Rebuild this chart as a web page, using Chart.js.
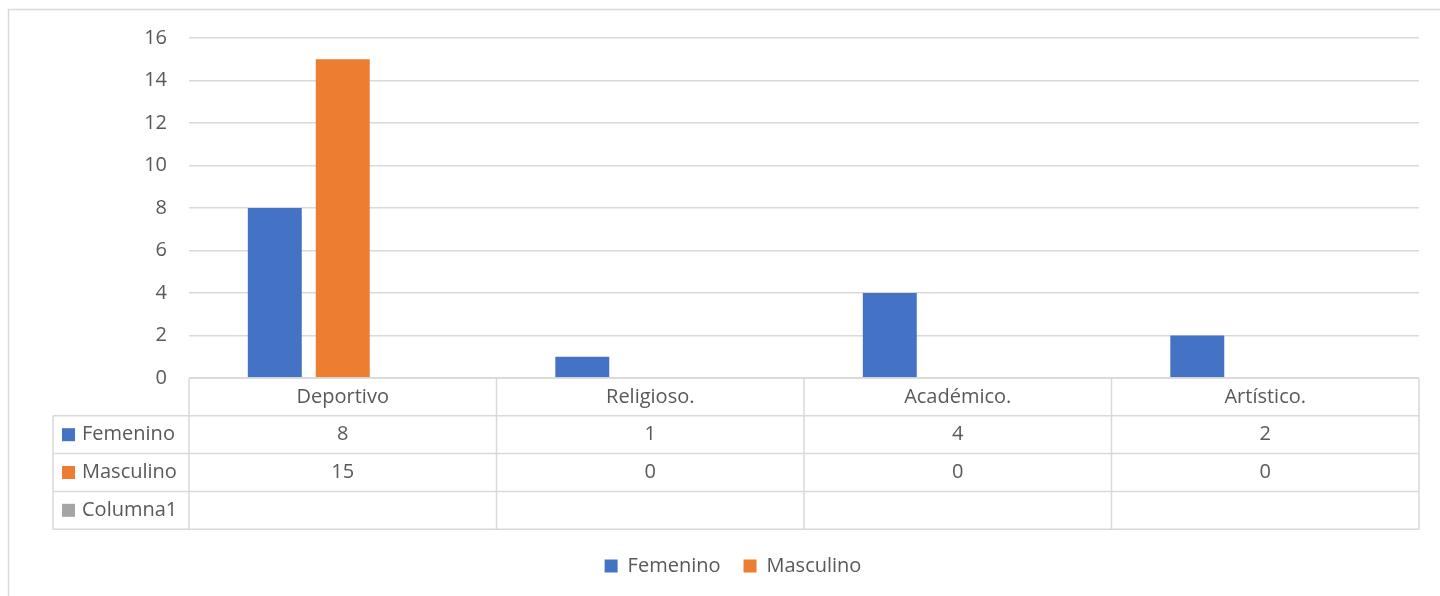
<!DOCTYPE html>
<html>
<head>
<meta charset="utf-8">
<script src="https://cdn.jsdelivr.net/npm/chart.js@4"></script>
<style>
  html, body { margin: 0; padding: 0; background: #fff; }
  #wrap { width: 1440px; height: 596px; }
</style>
</head>
<body>
<div id="wrap"><canvas id="chart" width="1440" height="596"></canvas></div>
<script>
const categories = ['Deportivo', 'Religioso.', 'Académico.', 'Artístico.'];
const femenino = [8, 1, 4, 2];
const masculino = [15, 0, 0, 0];
const columna1 = [null, null, null, null];
const seriesNames = ['Femenino', 'Masculino', 'Columna1'];
const seriesColors = ['#4472c4', '#ed7d31', '#a5a5a5'];

const FONT = '"Open Sans", sans-serif';
const TXT = '#595959';
const LINE = '#d9d9d9';

// marco exterior + tabla de datos bajo el eje
const dataTable = {
  id: 'dataTable',
  beforeDraw(chart) {
    const ctx = chart.ctx;
    ctx.save();
    ctx.strokeStyle = LINE;
    ctx.lineWidth = 1.5;
    ctx.beginPath();
    ctx.moveTo(8.5, 596);
    ctx.lineTo(8.5, 9.5);
    ctx.lineTo(1440, 9.5);
    ctx.stroke();
    ctx.restore();
  },
  afterDraw(chart) {
    const ctx = chart.ctx;
    const area = chart.chartArea;
    const x = chart.scales.x;
    const cw = area.width / categories.length;
    const rowH = 37.8;
    const top = area.bottom;
    const labelLeft = 53;
    const rows = [femenino, masculino, columna1];
    const bottom = top + (rows.length + 1) * rowH;

    ctx.save();
    ctx.strokeStyle = LINE;
    ctx.lineWidth = 1.5;
    ctx.beginPath();
    // horizontales
    ctx.moveTo(area.left, top);
    ctx.lineTo(area.right, top);
    for (let r = 1; r <= rows.length + 1; r++) {
      const y = top + r * rowH;
      ctx.moveTo(labelLeft, y);
      ctx.lineTo(area.right, y);
    }
    // verticales
    ctx.moveTo(labelLeft, top + rowH);
    ctx.lineTo(labelLeft, bottom);
    for (let i = 0; i <= categories.length; i++) {
      const xx = area.left + i * cw;
      ctx.moveTo(xx, top);
      ctx.lineTo(xx, bottom);
    }
    ctx.stroke();

    ctx.font = '20px ' + FONT;
    ctx.fillStyle = TXT;
    ctx.textBaseline = 'middle';
    ctx.textAlign = 'center';
    categories.forEach((c, i) => {
      ctx.fillText(c, x.getPixelForValue(i), top + rowH / 2);
    });
    rows.forEach((vals, r) => {
      const cy = top + (r + 1.5) * rowH;
      ctx.textAlign = 'center';
      ctx.fillStyle = TXT;
      vals.forEach((v, i) => {
        if (v !== null) ctx.fillText(String(v), x.getPixelForValue(i), cy);
      });
      ctx.fillStyle = seriesColors[r];
      ctx.fillRect(62, cy - 6.5, 13, 13);
      ctx.fillStyle = TXT;
      ctx.textAlign = 'left';
      ctx.fillText(seriesNames[r], 82, cy);
    });
    ctx.restore();
  }
};

new Chart(document.getElementById('chart'), {
  type: 'bar',
  data: {
    labels: categories,
    datasets: [
      { label: seriesNames[0], data: femenino, backgroundColor: seriesColors[0] },
      { label: seriesNames[1], data: masculino, backgroundColor: seriesColors[1] },
      { label: seriesNames[2], data: columna1, backgroundColor: seriesColors[2] }
    ]
  },
  options: {
    responsive: false,
    animation: false,
    categoryPercentage: 0.663,
    barPercentage: 0.794,
    layout: { padding: { top: 38, left: 47, right: 21, bottom: 10 } },
    plugins: {
      tooltip: { enabled: false },
      legend: {
        position: 'bottom',
        labels: {
          boxWidth: 13,
          boxHeight: 13,
          padding: 23,
          color: TXT,
          font: { family: FONT, size: 20 },
          filter: item => item.text !== 'Columna1'
        }
      }
    },
    scales: {
      x: {
        grid: { display: false },
        border: { display: false },
        ticks: { display: false },
        afterFit: s => { s.height = 155; }
      },
      y: {
        min: 0,
        max: 16,
        ticks: { stepSize: 2, padding: 22, color: TXT, font: { family: FONT, size: 20 } },
        grid: { color: LINE, lineWidth: 1.5, drawTicks: false },
        border: { display: false },
        afterFit: s => { s.width = 142; }
      }
    }
  },
  plugins: [dataTable]
});
</script>
</body>
</html>
